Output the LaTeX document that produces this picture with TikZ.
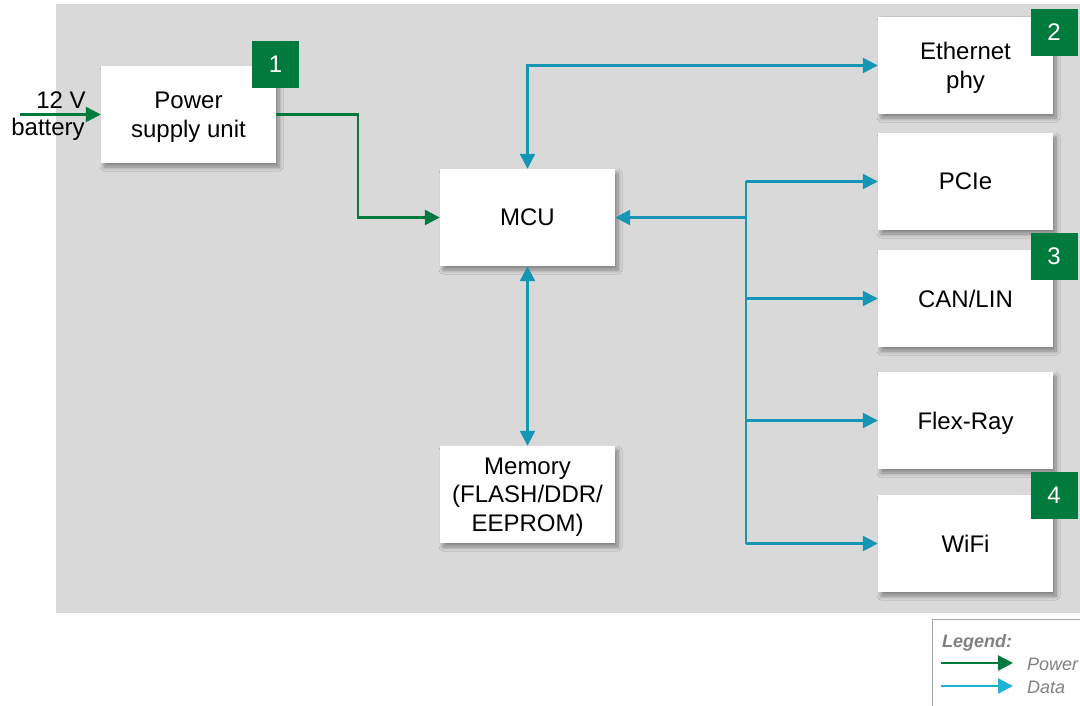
\documentclass[tikz,border=0pt]{standalone}
\usepackage{fontspec}
\setmainfont{Liberation Sans}
\usetikzlibrary{arrows.meta,shadows.blur,calc}
\definecolor{bg}{HTML}{D9D9D9}
\definecolor{pgreen}{HTML}{007A3D}
\definecolor{dblue}{HTML}{1496B4}
\definecolor{lblue}{HTML}{1CB4D2}
\definecolor{lgray}{HTML}{808080}
\tikzset{
  >={Triangle[length=15pt,width=15pt]},
  blk/.style={fill=white, draw=none, minimum width=175pt, minimum height=97pt, align=center,
    font=\fontsize{24}{28.5}\selectfont, inner sep=0pt, text depth=-2pt,
    blur shadow={shadow xshift=3pt, shadow yshift=-4pt, shadow blur steps=8, shadow blur radius=4pt}},
  badge/.style={fill=pgreen, minimum width=47pt, minimum height=47pt, inner sep=0pt,
    text=white, font=\fontsize{24}{26}\selectfont},
  pw/.style={draw=pgreen, line width=2.4pt, ->},
  dt/.style={draw=dblue, line width=2.4pt},
  lab/.style={font=\fontsize{24}{26}\selectfont, inner sep=0pt},
  leg/.style={font=\fontsize{18}{20}\selectfont\itshape, text=lgray, anchor=west, inner sep=0pt}
}
\begin{document}
\begin{tikzpicture}[x=1pt,y=-1pt]
\useasboundingbox (0,0) rectangle (1080,706);
\fill[bg] (56,4) rectangle (1080,613);
% blocks
\node[blk] (psu) at (188.5,114.5) {Power\\supply unit};
\node[blk] (mcu) at (527.5,217.5) {MCU};
\node[blk] (mem) at (527.5,494.5) {Memory\\(FLASH/DDR/\\EEPROM)};
\node[blk] (eth) at (965.5,65.5) {Ethernet\\phy};
\node[blk] (pcie) at (965.5,181.5) {PCIe};
\node[blk] (can) at (965.5,298.5) {CAN/LIN};
\node[blk] (flex) at (965.5,420.5) {Flex-Ray};
\node[blk] (wifi) at (965.5,543.5) {WiFi};
% badges
\node[badge] (b1) at (275.5,64.5) {1};
\node[badge] (b2) at (1054,32.5) {2};
\node[badge] (b3) at (1054,256.5) {3};
\node[badge] (b4) at (1054,495.5) {4};
% power
\coordinate (batt) at (20,114.5);
\coordinate (pc) at (358,114.5);
\draw[pw] (batt) -- (psu.west);
\node[lab] (v12) at (61,100) {12 V};
\node[lab] (bt) at (48,129) {battery};
\draw[pw] (psu.east) -- (pc) |- (mcu.west);
% data
\draw[dt,<->] (mcu.north) |- (eth.west);
\draw[dt,<->] (mcu.south) -- (mem.north);
\coordinate (bus) at (746,217.5);
\draw[dt,<-] (mcu.east) -- (bus);
\draw[dt] (bus |- pcie.west) -- (bus |- wifi.west);
\draw[dt,->] (bus |- pcie.west) -- (pcie.west);
\draw[dt,->] (bus |- can.west) -- (can.west);
\draw[dt,->] (bus |- flex.west) -- (flex.west);
\draw[dt,->] (bus |- wifi.west) -- (wifi.west);
% legend
\draw[lgray!70, line width=0.8pt] (1090,619) -- (932,619) -- (932,712);
\node[leg, font=\fontsize{18}{20}\selectfont\bfseries\itshape] (lt) at (942,642.5) {Legend:};
\coordinate (lp1) at (941,663);
\coordinate (lp2) at (1013,663);
\coordinate (ld1) at (941,686);
\coordinate (ld2) at (1013,686);
\draw[pgreen, line width=2.4pt, ->] (lp1) -- (lp2);
\draw[lblue, line width=2.4pt, ->] (ld1) -- (ld2);
\node[leg] (lpw) at (1027,664) {Power};
\node[leg] (ldt) at (1027,687) {Data};
\end{tikzpicture}
\end{document}
